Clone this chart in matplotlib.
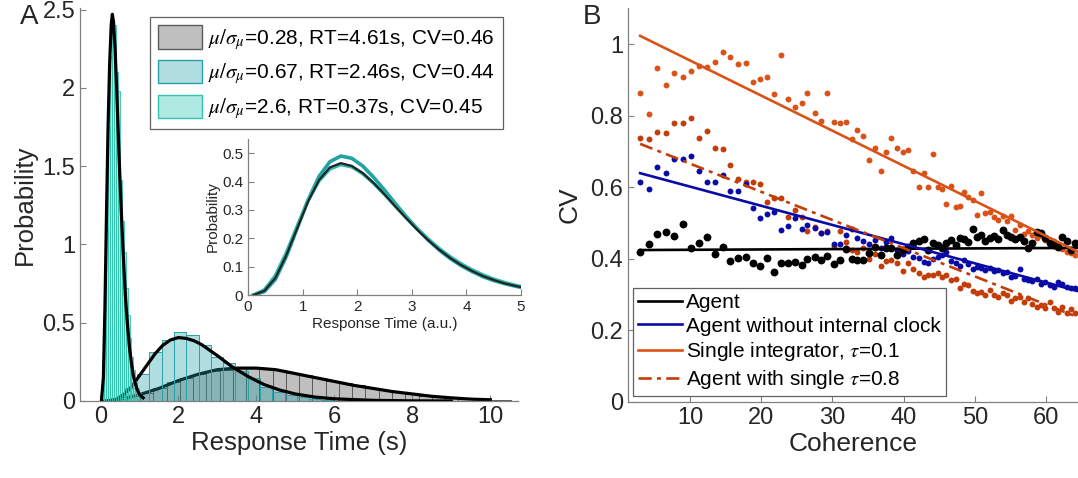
import numpy as np
import matplotlib.pyplot as plt
from matplotlib.patches import Patch
from matplotlib.lines import Line2D

plt.rcParams['font.family'] = ['Liberation Sans', 'DejaVu Sans']
plt.rcParams['mathtext.fontset'] = 'stix'

# ---------------- panel A data ----------------
# histograms: bin start, bin width, heights
gray_start, gray_width = 0.0, 0.34
gray_heights = [0.0, 0.01, 0.03, 0.05, 0.08, 0.12, 0.15, 0.17, 0.19, 0.20,
                0.21, 0.21, 0.205, 0.195, 0.18, 0.165, 0.15, 0.13, 0.115, 0.10,
                0.085, 0.07, 0.055, 0.045, 0.035, 0.028, 0.02, 0.015, 0.01, 0.008,
                0.005]
teal_start, teal_width = 0.0, 0.315
teal_heights = [0.0, 0.02, 0.08, 0.17, 0.31, 0.39, 0.44, 0.42, 0.36, 0.28,
                0.24, 0.19, 0.15, 0.09, 0.06, 0.04, 0.025, 0.015, 0.008]
light_start, light_width = 0.0, 0.05
light_heights = [0.0, 0.08, 0.45, 1.1, 1.75, 2.2, 2.41, 2.4, 2.1, 1.98,
                 1.41, 1.15, 0.95, 0.72, 0.55, 0.40, 0.28, 0.2, 0.13, 0.08,
                 0.05, 0.03]

# fitted densities
gray_fit_x = [0.1, 0.5, 1.0, 1.5, 2.0, 2.5, 3.0, 3.5, 4.0, 4.5, 5.0, 5.5, 6.0,
              6.5, 7.0, 7.5, 8.0, 8.5, 9.0, 9.5, 10.0]
gray_fit_y = [0.0, 0.01, 0.04, 0.08, 0.13, 0.17, 0.20, 0.21, 0.21, 0.20, 0.175,
              0.15, 0.125, 0.10, 0.08, 0.06, 0.045, 0.03, 0.02, 0.012, 0.008]
teal_fit_x = [0.2, 0.4, 0.6, 0.8, 1.0, 1.2, 1.4, 1.6, 1.8, 2.0, 2.2, 2.4, 2.6,
              2.8, 3.0, 3.4, 3.8, 4.2, 4.6, 5.0, 5.5, 6.0, 7.0, 8.0, 9.0]
teal_fit_y = [0.001, 0.01, 0.04, 0.09, 0.16, 0.23, 0.30, 0.355, 0.39, 0.405,
              0.40, 0.385, 0.36, 0.325, 0.29, 0.215, 0.155, 0.105, 0.07, 0.045,
              0.025, 0.014, 0.004, 0.001, 0.0]
light_fit_x = [0.03, 0.08, 0.12, 0.16, 0.2, 0.24, 0.28, 0.31, 0.34, 0.38, 0.42,
               0.46, 0.5, 0.55, 0.6, 0.65, 0.7, 0.75, 0.8, 0.85, 0.9, 0.95, 1.0,
               1.05, 1.1]
light_fit_y = [0.0, 0.15, 0.6, 1.2, 1.75, 2.15, 2.4, 2.47, 2.42, 2.25, 2.0,
               1.72, 1.45, 1.15, 0.88, 0.65, 0.48, 0.34, 0.24, 0.16, 0.11,
               0.07, 0.045, 0.03, 0.02]

# inset: normalised response time densities
inset_x = [0.1, 0.3, 0.5, 0.7, 0.9, 1.1, 1.3, 1.5, 1.7, 1.9, 2.1, 2.3, 2.5,
           2.7, 2.9, 3.1, 3.3, 3.5, 3.7, 3.9, 4.1, 4.3, 4.5, 4.7, 4.9, 5.0]
inset_black = [0.0, 0.015, 0.06, 0.14, 0.235, 0.33, 0.405, 0.45, 0.465, 0.455,
               0.43, 0.395, 0.355, 0.312, 0.27, 0.23, 0.193, 0.16, 0.131, 0.106,
               0.085, 0.067, 0.053, 0.041, 0.032, 0.028]
inset_teal = [0.0, 0.012, 0.055, 0.135, 0.235, 0.335, 0.418, 0.47, 0.49, 0.482,
              0.455, 0.415, 0.37, 0.322, 0.276, 0.233, 0.194, 0.159, 0.129,
              0.104, 0.083, 0.065, 0.051, 0.04, 0.031, 0.027]
inset_light = [0.0, 0.018, 0.068, 0.148, 0.242, 0.333, 0.403, 0.445, 0.46,
               0.452, 0.428, 0.394, 0.355, 0.313, 0.272, 0.233, 0.197, 0.164,
               0.135, 0.11, 0.089, 0.071, 0.056, 0.044, 0.034, 0.03]

legend_a = [r'$\mu/\sigma_\mu$=0.28, RT=4.61s, CV=0.46',
            r'$\mu/\sigma_\mu$=0.67, RT=2.46s, CV=0.44',
            r'$\mu/\sigma_\mu$=2.6, RT=0.37s, CV=0.45']

# ---------------- panel B data ----------------
coherence = [3.0, 4.2, 5.4, 6.6, 7.8, 9.0, 10.1, 11.3, 12.4, 13.5, 14.6, 15.6,
             16.7, 17.8, 18.8, 19.8, 20.8, 21.8,
             22.8, 23.8, 24.7, 25.7, 26.5, 27.5, 28.4, 29.3, 30.2, 31.1, 31.9,
             32.7, 33.5, 34.3, 35.2, 36.0, 36.8, 37.5, 38.3, 39.1, 39.9, 40.6,
             41.3, 42.1, 42.8, 43.5, 44.1,
             44.8, 45.4, 46.0, 46.7, 47.3, 47.9, 48.5, 49.1, 49.7, 50.3, 50.9,
             51.5, 52.1, 52.7, 53.3, 53.9, 54.5, 55.1, 55.7, 56.3, 56.9, 57.5,
             58.1, 58.7, 59.3, 59.9, 60.5, 61.1, 61.7, 62.3, 62.9, 63.5, 64.1]
cv_agent = [0.42, 0.441, 0.47, 0.476, 0.464, 0.497, 0.43, 0.444, 0.461, 0.414,
            0.434, 0.395, 0.402, 0.406, 0.388, 0.379, 0.404, 0.363,
            0.388, 0.388, 0.391, 0.383, 0.399, 0.406, 0.397, 0.409, 0.385, 0.397,
            0.429, 0.399, 0.397, 0.397, 0.416, 0.434, 0.411, 0.43, 0.43, 0.411,
            0.425, 0.434, 0.444, 0.451, 0.455, 0.425, 0.444,
            0.44, 0.43, 0.445, 0.452, 0.44, 0.46, 0.455, 0.447, 0.483, 0.462,
            0.467, 0.45, 0.458, 0.464, 0.455, 0.481, 0.468, 0.461, 0.455, 0.462,
            0.45, 0.43, 0.445, 0.476, 0.474, 0.46, 0.444, 0.44, 0.434, 0.462,
            0.45, 0.425, 0.445]
cv_noclock = [0.614, 0.596, 0.657, 0.641, 0.681, 0.681, 0.688, 0.645, 0.614,
              0.616, 0.634, 0.589, 0.589, 0.609, 0.542, 0.516, 0.525, 0.532,
              0.481, 0.492, 0.514, 0.484, 0.494, 0.486, 0.472, 0.475, 0.441,
              0.443, 0.467, 0.483, 0.46, 0.451, 0.441, 0.453, 0.43, 0.448, 0.458,
              0.425, 0.414, 0.422, 0.406, 0.402, 0.392, 0.388, 0.399,
              0.405, 0.41, 0.42, 0.395, 0.39, 0.38, 0.398, 0.385, 0.372, 0.378,
              0.374, 0.37, 0.375, 0.366, 0.368, 0.36, 0.364, 0.35, 0.352, 0.372,
              0.345, 0.342, 0.338, 0.343, 0.33, 0.335, 0.328, 0.322, 0.335, 0.33,
              0.323, 0.318, 0.32]
cv_single = [0.865, 0.806, 0.933, 0.887, 0.919, 0.91, 0.927, 0.94, 0.938, 0.952,
             0.98, 0.964, 0.945, 0.947, 0.896, 0.904, 0.908, 0.862,
             0.971, 0.847, 0.826, 0.837, 0.863, 0.807, 0.787, 0.865, 0.784, 0.78,
             0.784, 0.736, 0.761, 0.744, 0.677, 0.709, 0.647, 0.699, 0.737,
             0.709, 0.70, 0.705, 0.646, 0.60, 0.64, 0.60, 0.694,
             0.60, 0.595, 0.554, 0.604, 0.544, 0.548, 0.586, 0.574, 0.565, 0.523,
             0.584, 0.528, 0.53, 0.518, 0.51, 0.52, 0.505, 0.52, 0.48, 0.495,
             0.47, 0.478, 0.466, 0.46, 0.468, 0.452, 0.445, 0.45, 0.44, 0.428,
             0.42, 0.418, 0.412]
cv_single_tau = [0.737, 0.735, 0.754, 0.752, 0.779, 0.781, 0.793, 0.737, 0.759,
                 0.709, 0.708, 0.663, 0.624, 0.616, 0.616, 0.61, 0.56, 0.57,
                 0.57, 0.518, 0.537, 0.518, 0.479, 0.49, 0.474, 0.478, 0.436,
                 0.478, 0.448, 0.425, 0.42, 0.43, 0.399, 0.414, 0.379, 0.395,
                 0.397, 0.388, 0.365, 0.388, 0.371, 0.36, 0.35, 0.355, 0.355,
                 0.36, 0.35, 0.355, 0.342, 0.345, 0.32, 0.33, 0.327, 0.31, 0.305,
                 0.309, 0.3, 0.313, 0.299, 0.295, 0.304, 0.3, 0.282, 0.29, 0.295,
                 0.281, 0.29, 0.275, 0.267, 0.27, 0.262, 0.28, 0.262, 0.253, 0.265,
                 0.25, 0.26, 0.248]

# linear fits (end points)
fit_x = [3.0, 64.5]
fit_agent = [0.425, 0.431]
fit_noclock = [0.64, 0.31]
fit_single = [1.024, 0.42]
fit_single_tau = [0.722, 0.237]

legend_b = ['Agent', 'Agent without internal clock',
            r'Single integrator, $\tau$=0.1', r'Agent with single $\tau$=0.8']

# ---------------- styling ----------------
GRAY_FACE, GRAY_EDGE = '#bfbfbf', '#5a5a5a'
TEAL_FACE, TEAL_EDGE = (0.12, 0.62, 0.65, 0.35), '#2aa2a8'
LIGHT_FACE, LIGHT_EDGE = (0.22, 0.80, 0.72, 0.40), '#33c2ae'
C_AGENT, C_NOCLOCK, C_SINGLE, C_TAU = 'black', '#0a0aa5', '#d95319', '#c23d08'
SPINE = '#808080'
TXT = '#262626'
DASHDOT = (0, (5, 2, 1.5, 2))


def style_axes(ax, size):
    for s in ['top', 'right']:
        ax.spines[s].set_visible(False)
    for s in ['left', 'bottom']:
        ax.spines[s].set_color(SPINE)
        ax.spines[s].set_linewidth(0.9)
    ax.tick_params(direction='in', length=4, width=0.8, color=SPINE,
                   labelsize=size, labelcolor=TXT)


fig = plt.figure(figsize=(10.78, 4.78), dpi=100)

# ---------------- panel A ----------------
ax = fig.add_axes([0.0742, 0.1611, 0.4063, 0.8222])
ax.bar(gray_start + gray_width * np.arange(len(gray_heights)), gray_heights,
       width=gray_width, align='edge', color=GRAY_FACE, edgecolor=GRAY_EDGE,
       linewidth=0.7, zorder=1)
ax.plot(gray_fit_x, gray_fit_y, color='black', lw=2.3, zorder=2)
ax.bar(teal_start + teal_width * np.arange(len(teal_heights)), teal_heights,
       width=teal_width, align='edge', facecolor=TEAL_FACE, edgecolor=TEAL_EDGE,
       linewidth=0.7, zorder=3)
ax.plot(teal_fit_x, teal_fit_y, color='black', lw=2.3, zorder=4)
ax.bar(light_start + light_width * np.arange(len(light_heights)), light_heights,
       width=light_width, align='edge', facecolor=LIGHT_FACE,
       edgecolor=LIGHT_EDGE, linewidth=0.6, zorder=5)
ax.plot(light_fit_x, light_fit_y, color='black', lw=2.3, zorder=6)

ax.set_xlim(-0.52, 10.71)
ax.set_ylim(0, 2.51)
ax.set_xticks([0, 2, 4, 6, 8, 10])
ax.set_yticks([0, 0.5, 1, 1.5, 2, 2.5])
ax.set_yticklabels(['0', '0.5', '1', '1.5', '2', '2.5'])
style_axes(ax, 17)
ax.set_xlabel('Response Time (s)', fontsize=18.5, color=TXT, labelpad=2)
ax.set_ylabel('Probability', fontsize=18.5, color=TXT, labelpad=4)

handles_a = [Patch(facecolor=GRAY_FACE, edgecolor=GRAY_EDGE),
             Patch(facecolor=TEAL_FACE, edgecolor=TEAL_EDGE),
             Patch(facecolor=LIGHT_FACE, edgecolor=LIGHT_EDGE)]
leg = ax.legend(handles_a, legend_a, loc='upper right',
                bbox_to_anchor=(503 / 1078, 1 - 17 / 478),
                bbox_transform=fig.transFigure, fontsize=15, frameon=True,
                fancybox=False, edgecolor='#606060', framealpha=1,
                handlelength=2.1, handleheight=1.35, handletextpad=0.3,
                labelspacing=0.4, borderpad=0.4, borderaxespad=0)
leg.get_frame().set_linewidth(0.9)

# inset
axi = fig.add_axes([0.2301, 0.3828, 0.2532, 0.3264])
axi.plot(inset_x, inset_teal, color='#1fa3a3', lw=2.6)
axi.plot(inset_x, inset_light, color='#2bb8aa', lw=2.6)
axi.plot(inset_x, inset_black, color='#222222', lw=1.6)
axi.set_xlim(0, 5)
axi.set_ylim(0, 0.55)
axi.set_xticks([0, 1, 2, 3, 4, 5])
axi.set_yticks([0, 0.1, 0.2, 0.3, 0.4, 0.5])
axi.set_yticklabels(['0', '0.1', '0.2', '0.3', '0.4', '0.5'])
style_axes(axi, 11)
axi.set_xlabel('Response Time (a.u.)', fontsize=11, color=TXT, labelpad=2)
axi.set_ylabel('Probability', fontsize=11, color=TXT, labelpad=2)

# ---------------- panel B ----------------
bx = fig.add_axes([0.5826, 0.159, 0.4174, 0.8243])
bx.scatter(coherence, cv_single, s=18, color=C_SINGLE, lw=0, zorder=2)
bx.scatter(coherence, cv_single_tau, s=18, color=C_TAU, lw=0, zorder=2)
bx.scatter(coherence, cv_noclock, s=18, color=C_NOCLOCK, lw=0, zorder=2)
bx.scatter(coherence, cv_agent, s=32, color=C_AGENT, lw=0, zorder=2)
bx.plot(fit_x, fit_agent, color=C_AGENT, lw=1.9, zorder=3)
bx.plot(fit_x, fit_noclock, color=C_NOCLOCK, lw=1.9, zorder=3)
bx.plot(fit_x, fit_single, color=C_SINGLE, lw=1.9, zorder=3)
bx.plot(fit_x, fit_single_tau, color=C_TAU, lw=1.9, ls=DASHDOT, zorder=3)

bx.set_xlim(1.3, 64.5)
bx.set_ylim(0, 1.102)
bx.set_xticks([10, 20, 30, 40, 50, 60])
bx.set_yticks([0, 0.2, 0.4, 0.6, 0.8, 1])
bx.set_yticklabels(['0', '0.2', '0.4', '0.6', '0.8', '1'])
style_axes(bx, 17)
bx.set_xlabel('Coherence', fontsize=19, color=TXT, labelpad=2)
bx.set_ylabel('CV', fontsize=19, color=TXT, labelpad=6)

handles_b = [Line2D([], [], color=C_AGENT, lw=1.9),
             Line2D([], [], color=C_NOCLOCK, lw=1.9),
             Line2D([], [], color=C_SINGLE, lw=1.9),
             Line2D([], [], color=C_TAU, lw=1.9, ls=DASHDOT)]
legb = bx.legend(handles_b, legend_b, loc='lower left',
                 bbox_to_anchor=(633 / 1078, 1 - 396 / 478),
                 bbox_transform=fig.transFigure, fontsize=15, frameon=True,
                 fancybox=False, edgecolor='#606060', framealpha=1,
                 handlelength=2.1, handletextpad=0.2, labelspacing=0.22,
                 borderpad=0.25, borderaxespad=0)
legb.get_frame().set_linewidth(0.9)

fig.text(20 / 1078, 1 - 17 / 478, 'A', fontsize=20, color=TXT,
         ha='left', va='center')
fig.text(583 / 1078, 1 - 17 / 478, 'B', fontsize=20, color=TXT,
         ha='left', va='center')

fig.savefig('out.png', dpi=100)
